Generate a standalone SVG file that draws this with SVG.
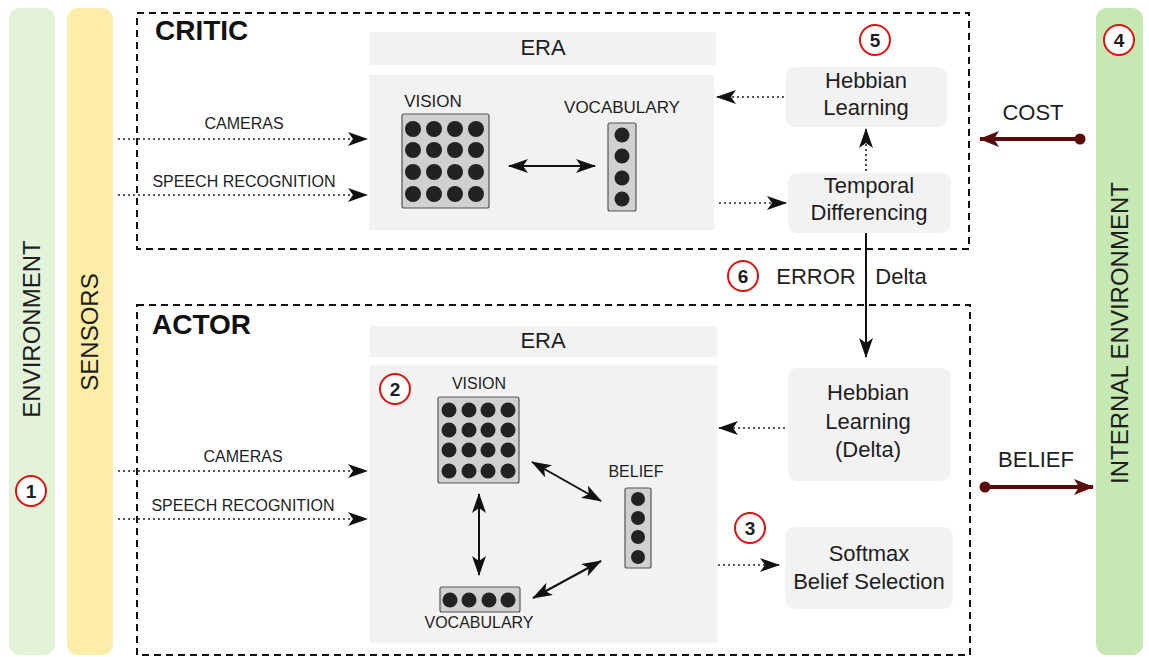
<svg xmlns="http://www.w3.org/2000/svg" width="1149" height="657" viewBox="0 0 1149 657">
<defs>
<style>
text{font-family:"Liberation Sans",Arial,sans-serif;fill:#1e1e1e}
.dash{fill:none;stroke:#111;stroke-width:2;stroke-dasharray:7,5}
.panel{fill:#f2f2f2}
.box{fill:#f2f2f2}
.dot{fill:none;stroke:#222;stroke-width:1.6;stroke-dasharray:2,3}
.solid{fill:none;stroke:#111;stroke-width:2}
.mar{fill:none;stroke:#5a0a0a;stroke-width:4}
.grid{fill:#d0d0d0;stroke:#555;stroke-width:1.2}
.n{fill:#222}
.num{fill:#fff;stroke:#e01010;stroke-width:2}
.numt{font-weight:bold;font-size:19px;text-anchor:middle}
.lbl{font-size:16px;text-anchor:middle}
.lbl2{font-size:17px;text-anchor:middle}
.big{font-size:22px;text-anchor:middle}
.side{font-size:24px;text-anchor:middle}
.title{font-weight:bold;font-size:28px;fill:#111}
</style>
<marker id="ah" viewBox="0 0 20 14" refX="19" refY="7" markerWidth="20" markerHeight="14" markerUnits="userSpaceOnUse" orient="auto-start-reverse"><path d="M0,0 L20,7 L0,14 L5,7 z" fill="#111"/></marker>
<marker id="am" viewBox="0 0 20 16" refX="19" refY="8" markerWidth="20" markerHeight="16" markerUnits="userSpaceOnUse" orient="auto"><path d="M0,0 L20,8 L0,16 L5,8 z" fill="#5a0a0a"/></marker>
</defs>

<g id="environment">
<rect x="9" y="8" width="46" height="647" rx="11" fill="#e2f3d9"/>
<text class="side" transform="translate(40,329) rotate(-90)">ENVIRONMENT</text>
<circle class="num" cx="31" cy="491" r="15"/><text class="numt" x="31" y="498">1</text>
</g>
<g id="sensors">
<rect x="67" y="8" width="46" height="647" rx="11" fill="#fdeda8"/>
<text class="side" transform="translate(98,332) rotate(-90)">SENSORS</text>
</g>
<g id="internal-environment">
<rect x="1096" y="8" width="47" height="647" rx="11" fill="#c6e8b3"/>
<text class="side" transform="translate(1128,333) rotate(-90)">INTERNAL ENVIRONMENT</text>
<circle class="num" cx="1119" cy="40" r="15"/><text class="numt" x="1119" y="47">4</text>
</g>

<g id="critic">
<rect class="dash" x="137" y="13" width="832" height="236"/>
<text class="title" x="155" y="40">CRITIC</text>
<rect class="panel" x="369" y="32" width="347" height="33"/>
<text class="big" x="543" y="55">ERA</text>
<rect class="panel" x="369" y="75" width="345" height="155"/>
<text class="lbl2" x="433" y="107">VISION</text>
<rect class="grid" x="402" y="114" width="87" height="94" rx="2"/>
<g class="n">
<circle cx="413" cy="129" r="8"/><circle cx="434" cy="129" r="8"/><circle cx="455" cy="129" r="8"/><circle cx="476" cy="129" r="8"/>
<circle cx="413" cy="150" r="8"/><circle cx="434" cy="150" r="8"/><circle cx="455" cy="150" r="8"/><circle cx="476" cy="150" r="8"/>
<circle cx="413" cy="172" r="8"/><circle cx="434" cy="172" r="8"/><circle cx="455" cy="172" r="8"/><circle cx="476" cy="172" r="8"/>
<circle cx="413" cy="194" r="8"/><circle cx="434" cy="194" r="8"/><circle cx="455" cy="194" r="8"/><circle cx="476" cy="194" r="8"/>
</g>
<text class="lbl2" x="622" y="113">VOCABULARY</text>
<rect class="grid" x="608" y="123" width="28" height="88" rx="2"/>
<g class="n">
<circle cx="622" cy="135" r="7.5"/><circle cx="622" cy="156" r="7.5"/><circle cx="622" cy="178" r="7.5"/><circle cx="622" cy="199" r="7.5"/>
</g>
<rect class="box" x="786" y="67" width="161" height="60" rx="9"/>
<text class="big" x="866" y="88">Hebbian</text>
<text class="big" x="866" y="115">Learning</text>
<rect class="box" x="788" y="173" width="163" height="60" rx="9"/>
<text class="big" x="869" y="193">Temporal</text>
<text class="big" x="869" y="220">Differencing</text>
<circle class="num" cx="875" cy="40" r="15"/><text class="numt" x="875" y="47">5</text>
</g>

<g id="actor">
<rect class="dash" x="137" y="305" width="833" height="350"/>
<text class="title" x="152" y="334">ACTOR</text>
<rect class="panel" x="370" y="326" width="347" height="31"/>
<text class="big" x="543" y="348">ERA</text>
<rect class="panel" x="370" y="365" width="347" height="278"/>
<circle class="num" cx="395" cy="389" r="15"/><text class="numt" x="395" y="396">2</text>
<text class="lbl" x="479" y="389">VISION</text>
<rect class="grid" x="438" y="397" width="81" height="86" rx="2"/>
<g class="n">
<circle cx="449" cy="410" r="7.5"/><circle cx="469" cy="410" r="7.5"/><circle cx="488" cy="410" r="7.5"/><circle cx="508" cy="410" r="7.5"/>
<circle cx="449" cy="430" r="7.5"/><circle cx="469" cy="430" r="7.5"/><circle cx="488" cy="430" r="7.5"/><circle cx="508" cy="430" r="7.5"/>
<circle cx="449" cy="450" r="7.5"/><circle cx="469" cy="450" r="7.5"/><circle cx="488" cy="450" r="7.5"/><circle cx="508" cy="450" r="7.5"/>
<circle cx="449" cy="471" r="7.5"/><circle cx="469" cy="471" r="7.5"/><circle cx="488" cy="471" r="7.5"/><circle cx="508" cy="471" r="7.5"/>
</g>
<text class="lbl" x="636" y="477">BELIEF</text>
<rect class="grid" x="625" y="488" width="26" height="80" rx="2"/>
<g class="n">
<circle cx="638" cy="499" r="7"/><circle cx="638" cy="518" r="7"/><circle cx="638" cy="537" r="7"/><circle cx="638" cy="557" r="7"/>
</g>
<rect class="grid" x="440" y="587" width="80" height="25" rx="2"/>
<g class="n">
<circle cx="450" cy="600" r="7.5"/><circle cx="469" cy="600" r="7.5"/><circle cx="489" cy="600" r="7.5"/><circle cx="508" cy="600" r="7.5"/>
</g>
<text class="lbl" x="479" y="628">VOCABULARY</text>
<rect class="box" x="788" y="368" width="163" height="113" rx="9"/>
<text class="big" x="868" y="400">Hebbian</text>
<text class="big" x="868" y="429">Learning</text>
<text class="big" x="868" y="457">(Delta)</text>
<rect class="box" x="785" y="527" width="168" height="82" rx="9"/>
<text class="big" x="869" y="561">Softmax</text>
<text class="big" x="869" y="589">Belief Selection</text>
<circle class="num" cx="750" cy="528" r="15"/><text class="numt" x="750" y="535">3</text>
</g>

<g id="connectors">
<path class="dot" d="M118,139 H367" marker-end="url(#ah)"/>
<text class="lbl" x="244" y="129">CAMERAS</text>
<path class="dot" d="M118,195 H367" marker-end="url(#ah)"/>
<text class="lbl" x="244" y="187">SPEECH RECOGNITION</text>
<path class="solid" d="M509,166 H595" marker-start="url(#ah)" marker-end="url(#ah)"/>
<path class="dot" d="M784,97 H717" marker-end="url(#ah)"/>
<path class="dot" d="M719,203 H786" marker-end="url(#ah)"/>
<path class="dot" d="M866,171 V129" marker-end="url(#ah)"/>
<path class="mar" d="M1080,139 H980" marker-end="url(#am)"/>
<circle cx="1080" cy="139" r="5.5" fill="#5a0a0a"/>
<text class="big" x="1033" y="120">COST</text>
<path class="solid" d="M866,233 V357" marker-end="url(#ah)"/>
<circle class="num" cx="743" cy="276" r="15"/><text class="numt" x="743" y="283">6</text>
<text class="big" x="816" y="284">ERROR</text>
<text class="big" x="901" y="284">Delta</text>
<path class="dot" d="M118,471 H367" marker-end="url(#ah)"/>
<text class="lbl" x="243" y="462">CAMERAS</text>
<path class="dot" d="M118,519 H367" marker-end="url(#ah)"/>
<text class="lbl" x="243" y="511">SPEECH RECOGNITION</text>
<path class="solid" d="M532,462 L601,501" marker-start="url(#ah)" marker-end="url(#ah)"/>
<path class="solid" d="M479,494 V575" marker-start="url(#ah)" marker-end="url(#ah)"/>
<path class="solid" d="M533,598 L601,561" marker-start="url(#ah)" marker-end="url(#ah)"/>
<path class="dot" d="M785,428 H719" marker-end="url(#ah)"/>
<path class="dot" d="M718,565 H779" marker-end="url(#ah)"/>
<path class="mar" d="M985,487 H1093" marker-end="url(#am)"/>
<circle cx="985" cy="487" r="5.5" fill="#5a0a0a"/>
<text class="big" x="1036" y="467">BELIEF</text>
</g>
</svg>
